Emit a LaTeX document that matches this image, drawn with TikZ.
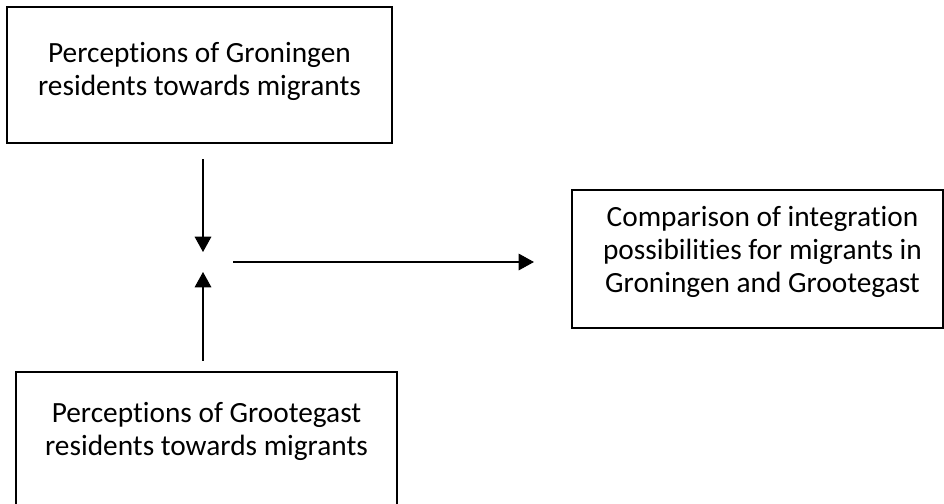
\documentclass[tikz,border=0pt]{standalone}
\usepackage{fontspec}
\setmainfont{Carlito}[Ligatures=NoCommon]
\usetikzlibrary{arrows.meta}

\begin{document}
\begin{tikzpicture}[x=0.75pt,y=-0.75pt,line width=0.8pt,>={Triangle[length=11.5pt,width=12.5pt]},
  box/.style={draw,line width=1.6pt,minimum height=102pt},
  txt/.style={align=center,font=\fontsize{22}{24.75}\selectfont}]
  \useasboundingbox (0,0) rectangle (944,503);
  \clip (0,0) rectangle (944,503);
  % perceptions in both places
  \node[box,minimum width=288.75pt,
    label={[txt,yshift=3pt]center:Perceptions of Groningen\\residents towards migrants}] (grn) at (199.5,75) {};
  \node[box,minimum width=285.75pt,
    label={[txt,yshift=6.7pt]center:Perceptions of Grootegast\\residents towards migrants}] (grt) at (206.5,440) {};
  % comparison
  \node[box,minimum width=278.25pt,minimum height=103.5pt,
    label={[txt,xshift=3.75pt,yshift=5.6pt]center:Comparison of integration\\possibilities for migrants in\\Groningen and Grootegast}] (cmp) at (757.5,259) {};
  % arrows meet here
  \coordinate (hub) at (203,262);
  \draw[->,shorten <=11.25pt,shorten >=7.5pt] (grn.south -| hub) -- (hub);
  \draw[->,shorten <=7.5pt,shorten >=7.5pt] (grt.north -| hub) -- (hub);
  \draw[->,shorten <=22.5pt,shorten >=27.75pt] (hub) -- (hub -| cmp.west);
\end{tikzpicture}
\end{document}
